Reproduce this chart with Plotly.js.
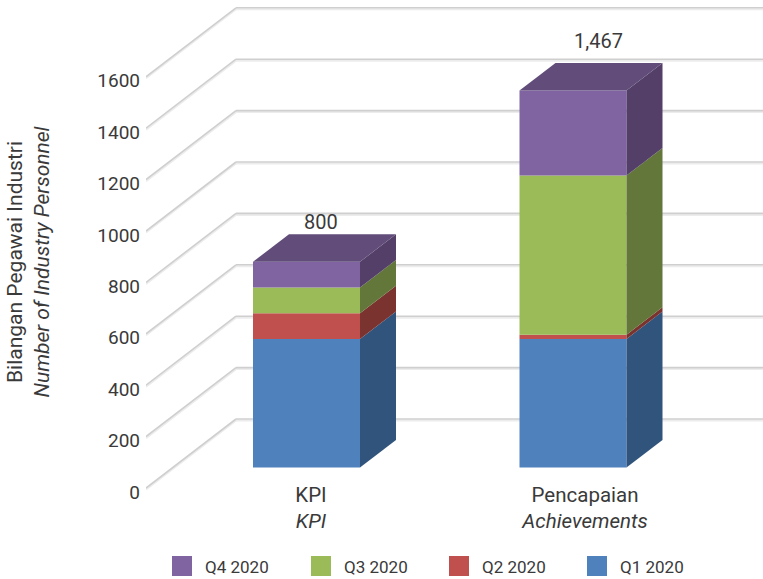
<!DOCTYPE html>
<html><head><meta charset="utf-8">
<script src="https://cdn.plot.ly/plotly-3.0.1.min.js"></script>
<style>html,body{margin:0;padding:0;background:#fff}</style>
</head><body><div id="chart" style="width:763px;height:579px"></div>
<script>
// ---- data ----
const categories = ['KPI', 'Pencapaian'];
const categoriesEn = ['KPI', 'Achievements'];
const q1 = [500, 500];
const q2 = [100, 16];
const q3 = [100, 620];
const q4 = [100, 331];
const totals = [800, 1467];
const seriesNames = ['Q1 2020', 'Q2 2020', 'Q3 2020', 'Q4 2020'];
const yTicks = [0, 200, 400, 600, 800, 1000, 1200, 1400, 1600];
// ---- styling ----
const frontColors = ['#4f81bd', '#c0504d', '#9bbb59', '#8064a2'];
const sideColors = ['#31547c', '#7b3330', '#64773a', '#533f68'];
const topColor = '#614c7a';
const font = 'Roboto, sans-serif', ink = '#3a3a3a';
const W = 763, H = 579, left = 146, plotBottom = 524, zeroPx = 488;
const pxPerVal = 51.4 / 200, pxPerX = 266.5, x0Px = 306.5;
const xRange = [(left - x0Px) / pxPerX, (W - x0Px) / pxPerX];
const yRange = [(zeroPx - plotBottom) / pxPerVal, zeroPx / pxPerVal];
const X = px => px / pxPerX, V = px => px / pxPerVal;
const wallDx = X(90), wallDy = V(69);
const barW = X(107), lift = V(20.6), sdx = X(36), sdy = V(27.5);
const series = [q1, q2, q3, q4];

const traces = [], shapes = [], annotations = [];
const cum = categories.map(() => 0);
series.forEach((vals, s) => {
  const base = cum.map(c => c + lift);
  traces.push({type: 'bar', x: categories.map((_, i) => i), y: vals, base: base, width: barW,
    name: seriesNames[s], marker: {color: frontColors[s], line: {width: 0}}, hoverinfo: 'skip', showlegend: false});
  categories.forEach((_, i) => {
    const xr = i + barW / 2, a = base[i], b = a + vals[i];
    traces.push({type: 'scatter', mode: 'lines', x: [xr, xr + sdx, xr + sdx, xr, xr], y: [a, a + sdy, b + sdy, b, a],
      fill: 'toself', fillcolor: sideColors[s], line: {width: 0}, hoverinfo: 'skip', showlegend: false});
  });
  categories.forEach((_, i) => { cum[i] += vals[i]; });
});
categories.forEach((_, i) => {
  const xl = i - barW / 2, xr = i + barW / 2, t = cum[i] + lift;
  traces.push({type: 'scatter', mode: 'lines', x: [xl, xr, xr + sdx, xl + sdx, xl], y: [t, t, t + sdy, t + sdy, t],
    fill: 'toself', fillcolor: topColor, line: {width: 0}, hoverinfo: 'skip', showlegend: false});
});
// walls: a pale shadow under each line, then the line itself
const shadow = V(1.5);
yTicks.forEach(v => {
  const bx = xRange[0] + wallDx, by = v + wallDy;
  shapes.push({type: 'line', layer: 'below', xref: 'x', yref: 'y', x0: xRange[0], x1: bx, y0: v - shadow, y1: by - shadow, line: {color: '#ececec', width: 2}});
  shapes.push({type: 'line', layer: 'below', xref: 'x', yref: 'y', x0: bx, x1: xRange[1], y0: by - shadow, y1: by - shadow, line: {color: '#ececec', width: 2}});
  shapes.push({type: 'line', layer: 'below', xref: 'x', yref: 'y', x0: xRange[0], x1: bx, y0: v, y1: by, line: {color: '#cfcfcf', width: 1.6}});
  shapes.push({type: 'line', layer: 'below', xref: 'x', yref: 'y', x0: bx, x1: xRange[1], y0: by, y1: by, line: {color: '#cfcfcf', width: 1.6}});
});
// totals
const labelDx = [14, 25], labelGap = [12, 22];
totals.forEach((t, i) => annotations.push({xref: 'x', yref: 'y', x: i + X(labelDx[i]), y: cum[i] + lift + sdy + V(labelGap[i]),
  text: t.toLocaleString('en-US'), showarrow: false, yanchor: 'middle', font: {family: font, size: 20, color: ink}}));
// legend
const legendX = [172, 311, 449, 587];
[3, 2, 1, 0].forEach((s, k) => {
  const px = legendX[k];
  shapes.push({type: 'rect', xref: 'paper', yref: 'paper', x0: (px - left) / (W - left), x1: (px + 20 - left) / (W - left),
    y0: (plotBottom - 576) / plotBottom, y1: (plotBottom - 556) / plotBottom, fillcolor: frontColors[s], line: {width: 0}});
  annotations.push({xref: 'paper', yref: 'paper', x: (px + 31 - left) / (W - left), y: (plotBottom - 567) / plotBottom,
    xanchor: 'left', yanchor: 'middle', showarrow: false, text: seriesNames[s], font: {family: font, size: 17, color: ink}});
});

const layout = {
  width: W, height: H, margin: {l: left, r: 0, t: 0, b: H - plotBottom},
  paper_bgcolor: '#fff', plot_bgcolor: '#fff', barmode: 'overlay', showlegend: false, font: {family: font, color: ink},
  xaxis: {range: xRange, anchor: 'free', position: (plotBottom - zeroPx) / plotBottom, tickmode: 'array',
    tickvals: [X(4.5), 1 + X(12)], ticktext: categories.map((c, i) => c + '<br><i>' + categoriesEn[i] + '</i>'),
    showgrid: false, zeroline: false, showline: false, ticks: '', tickfont: {family: font, size: 20.5, color: ink}, tickangle: 0,
    ticklabelstandoff: -8},
  yaxis: {range: yRange, tickmode: 'array', tickvals: yTicks, ticktext: yTicks.map(String), showgrid: false, zeroline: false, showline: false,
    ticks: '', tickfont: {family: font, size: 19, color: ink}, ticklabelstandoff: 5, ticklabelshift: 4, automargin: true,
    title: {text: 'Bilangan Pegawai Industri<br><i>Number of Industry Personnel</i>', standoff: 41, font: {family: font, size: 21, color: ink}}},
  shapes: shapes, annotations: annotations
};
Plotly.newPlot('chart', traces, layout, {displayModeBar: false, responsive: false, staticPlot: true});
</script></body></html>
